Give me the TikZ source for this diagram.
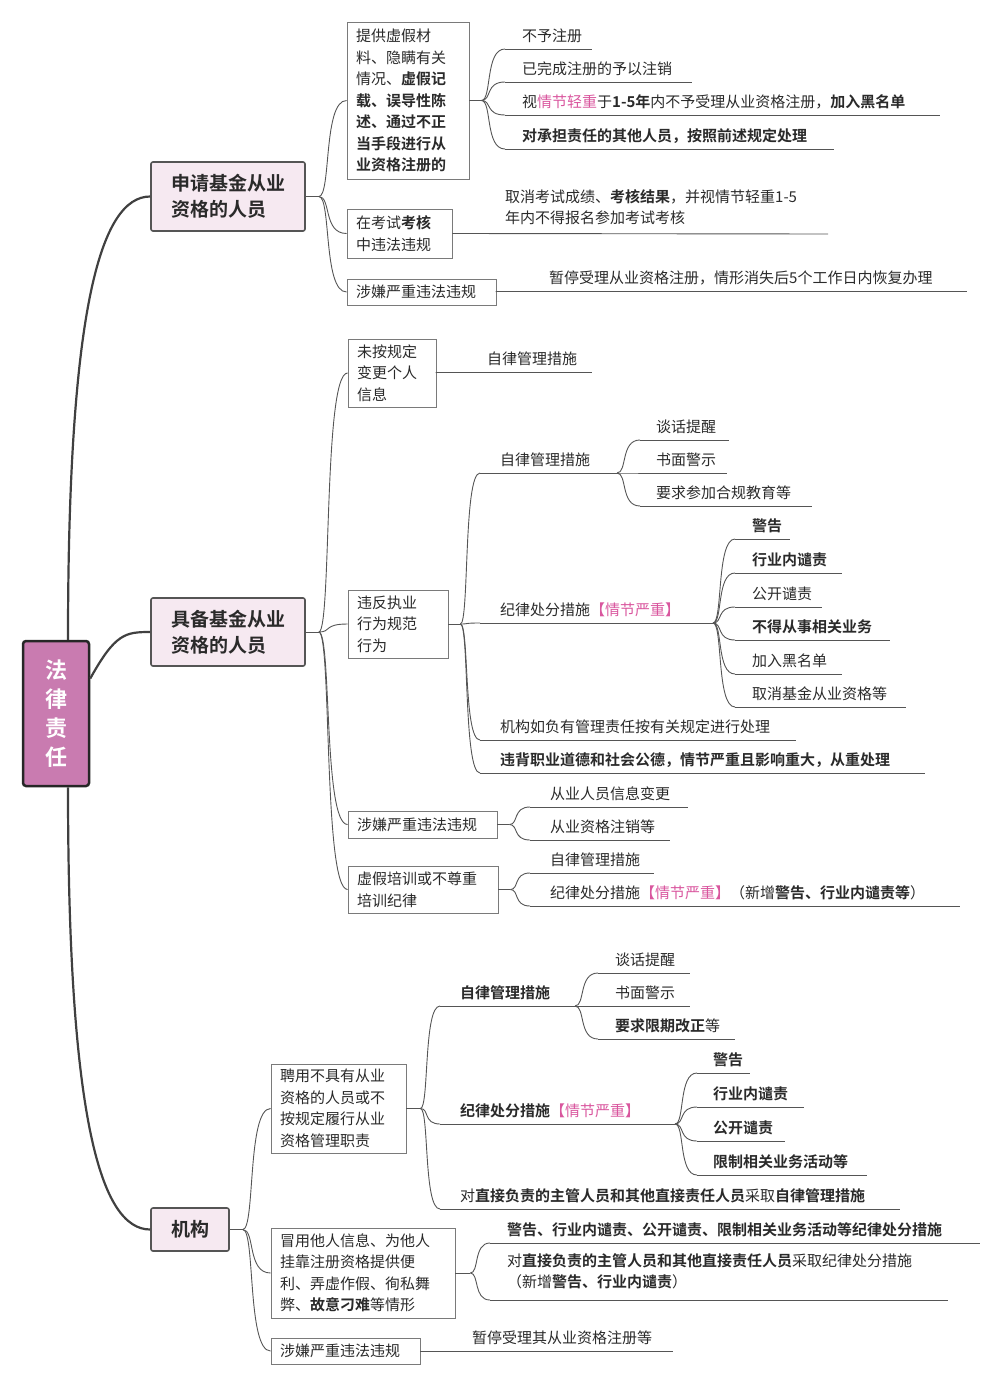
\documentclass[tikz,border=0pt]{standalone}
\usepackage{fontspec}
\setmainfont{Noto Sans CJK SC}[BoldFont={Noto Sans CJK SC Bold}]
\usetikzlibrary{calc}
\definecolor{pkc}{HTML}{D9569E}
\definecolor{lc}{HTML}{555555}
\definecolor{tc}{HTML}{2A2A2A}
\definecolor{bc}{HTML}{7A7A7A}
\definecolor{l1c}{HTML}{555555}
\definecolor{l1f}{HTML}{F6E9F1}
\definecolor{rootf}{HTML}{C97BB0}
\newcommand\B[1]{\textbf{#1}}
\newcommand\pk[1]{\textcolor{pkc}{#1}}
\newcommand\bx[6]{\pgfmathsetmacro\bw{#4-#2-18}\pgfmathsetmacro\bh{#5-#3}\node[bxs,text width=\bw pt,minimum height=\bh pt] (#1) at ({(#2+#4)/2},{(#3+#5)/2}) {#6};}
\newcommand\cc[2]{\draw[cl] let \p1=(#1),\p2=(#2) in (#1) .. controls ({\x1+0.45*(\x2-\x1)},\y1) and ({\x1+0.15*(\x2-\x1)},\y2) .. (#2);}
\newcommand\leaf[6]{\node[leaf,anchor=west] (#1) at (#3,#4) {#6}; \coordinate (#1s) at (#2,#4+13); \coordinate (#1e) at (#5,#4+13); \draw[cl] (#1s) -- (#1e);}
\newcommand\fan[3]{\coordinate (#1) at ($(#2)+(#3,0)$); \draw[cl] (#2) -- (#1);}
\begin{document}
\begin{tikzpicture}[x=1pt,y=-1pt,font=\fontsize{15}{21.5}\selectfont,
 cl/.style={draw=lc,line width=0.9pt},
 l0/.style={draw=black!75,line width=2.2pt},
 leaf/.style={inner sep=0pt,text=tc},
 bxs/.style={draw=bc,fill=white,line width=0.8pt,align=left,inner xsep=9pt,inner ysep=2pt,text=tc},
 l1/.style={draw=l1c,fill=l1f,line width=1.6pt,rounded corners=2pt,font=\fontsize{19}{26}\selectfont\bfseries,text=tc,align=left,inner xsep=10pt}]
\useasboundingbox (0,0) rectangle (1001,1386);
\node[draw=black!85,fill=rootf,line width=2.5pt,rounded corners=3pt,minimum width=66,minimum height=145,text=white,font=\fontsize{22}{29}\selectfont\bfseries,align=center] (root) at (56,713.5) {法\\律\\责\\任};
\node[l1,minimum width=154,minimum height=69] (A) at (228,196.5) {申请基金从业\\资格的人员};
\node[l1,minimum width=154,minimum height=68] (B) at (228,632) {具备基金从业\\资格的人员};
\node[l1,minimum width=78,minimum height=43] (C) at (190,1229.5) {机构};
\draw[l0] ($(root.north)+(12,0)$) .. controls +(0,-330) and +(-50,0) .. (A.west);
\draw[l0] ($(root.east)+(0,-35)$) .. controls +(25,-45) and +(-25,0) .. (B.west);
\draw[l0] ($(root.south)+(12,0)$) .. controls +(0,330) and +(-50,0) .. (C.west);
% A branch
\fan{fA}{A.east}{13}
\bx{a1}{347}{22}{469}{179}{提供虚假材\\料、隐瞒有关\\情况、\B{虚假记}\\\B{载、误导性陈}\\\B{述、通过不正}\\\B{当手段进行从}\\\B{业资格注册的}}
\bx{a2}{347}{209}{452}{258}{在考试\B{考核}\\中违法违规}
\bx{a3}{347}{279}{496}{305}{涉嫌严重违法违规}
\cc{fA}{a1.west}\cc{fA}{a2.west}\cc{fA}{a3.west}
\fan{fa1}{a1.east}{12}
\leaf{a11}{505}{522}{36}{592}{不予注册}
\leaf{a12}{505}{522}{69}{692}{已完成注册的予以注销}
\leaf{a13}{505}{522}{102}{940}{视\pk{情节轻重}于\B{1-5年}内不予受理从业资格注册，\B{加入黑名单}}
\leaf{a14}{505}{522}{136}{834}{\B{对承担责任的其他人员，按照前述规定处理}}
\cc{fa1}{a11s}\cc{fa1}{a12s}\cc{fa1}{a13s}\cc{fa1}{a14s}
\node[leaf,anchor=north west,align=left] (a21) at (505,189) {取消考试成绩、\B{考核结果}，并视情节轻重1-5\\年内不得报名参加考试考核};
\coordinate (a21s) at (452,234); \coordinate (a21e) at (828,234);
\draw[cl] (a2.east) -- (a21e);
\leaf{a31}{496}{549}{278}{967}{暂停受理从业资格注册，情形消失后5个工作日内恢复办理}
\draw[cl] (a3.east) -- (a31s);
% B branch
\fan{fB}{B.east}{13}
\bx{b1}{348}{339}{436}{407}{未按规定\\变更个人\\信息}
\bx{b2}{348}{590}{448}{658}{违反执业\\行为规范\\行为}
\bx{b3}{348}{811}{497}{838}{涉嫌严重违法违规}
\bx{b4}{348}{866}{498}{913}{虚假培训或不尊重\\培训纪律}
\cc{fB}{b1.west}\cc{fB}{b2.west}\cc{fB}{b3.west}\cc{fB}{b4.west}
\leaf{b11}{436}{487}{359}{592}{自律管理措施}
\draw[cl] (b1.east) -- (b11s);
\fan{fb2}{b2.east}{12}
\leaf{b21}{480}{500}{460}{617}{自律管理措施}
\leaf{b211}{640}{656}{427}{729}{谈话提醒}
\leaf{b212}{640}{656}{460}{727}{书面警示}
\leaf{b213}{640}{656}{493}{812}{要求参加合规教育等}
\cc{b21e}{b211s}\cc{b21e}{b212s}\cc{b21e}{b213s}
\leaf{b22}{480}{500}{610}{713}{纪律处分措施\pk{【情节严重】}}
\leaf{b221}{735}{752}{526}{790}{\B{警告}}
\leaf{b222}{735}{752}{560}{842}{\B{行业内谴责}}
\leaf{b223}{735}{752}{594}{822}{公开谴责}
\leaf{b224}{735}{752}{627}{890}{\B{不得从事相关业务}}
\leaf{b225}{735}{752}{661}{842}{加入黑名单}
\leaf{b226}{735}{752}{694}{906}{取消基金从业资格等}
\cc{b22e}{b221s}\cc{b22e}{b222s}\cc{b22e}{b223s}\cc{b22e}{b224s}\cc{b22e}{b225s}\cc{b22e}{b226s}
\leaf{b23}{480}{500}{727}{796}{机构如负有管理责任按有关规定进行处理}
\leaf{b24}{480}{500}{760}{925}{\B{违背职业道德和社会公德，情节严重且影响重大，从重处理}}
\cc{fb2}{b21s}\cc{fb2}{b22s}\cc{fb2}{b23s}\cc{fb2}{b24s}
\fan{fb3}{b3.east}{12}
\leaf{b31}{530}{550}{794}{688}{从业人员信息变更}
\leaf{b32}{530}{550}{827}{670}{从业资格注销等}
\cc{fb3}{b31s}\cc{fb3}{b32s}
\fan{fb4}{b4.east}{12}
\leaf{b41}{530}{550}{860}{654}{自律管理措施}
\leaf{b42}{530}{550}{893}{960}{纪律处分措施\pk{【情节严重】}（新增\B{警告、行业内谴责等}）}
\cc{fb4}{b41s}\cc{fb4}{b42s}
% C branch
\fan{fC}{C.east}{13}
\bx{c1}{271}{1064}{406}{1153}{聘用不具有从业\\资格的人员或不\\按规定履行从业\\资格管理职责}
\bx{c2}{271}{1228}{455}{1318}{冒用他人信息、为他人\\挂靠注册资格提供便\\利、弄虚作假、徇私舞\\弊、\B{故意刁难}等情形}
\bx{c3}{271}{1338}{420}{1364}{涉嫌严重违法违规}
\cc{fC}{c1.west}\cc{fC}{c2.west}\cc{fC}{c3.west}
\fan{fc1}{c1.east}{14}
\leaf{c11}{440}{460}{993}{575}{\B{自律管理措施}}
\leaf{c111}{598}{615}{960}{690}{谈话提醒}
\leaf{c112}{598}{615}{993}{690}{书面警示}
\leaf{c113}{598}{615}{1026}{735}{\B{要求限期改正}等}
\cc{c11e}{c111s}\cc{c11e}{c112s}\cc{c11e}{c113s}
\leaf{c12}{440}{460}{1111}{675}{\B{纪律处分措施}\pk{【情节严重】}}
\leaf{c121}{697}{713}{1060}{750}{\B{警告}}
\leaf{c122}{697}{713}{1094}{804}{\B{行业内谴责}}
\leaf{c123}{697}{713}{1128}{785}{\B{公开谴责}}
\leaf{c124}{697}{713}{1162}{867}{\B{限制相关业务活动等}}
\cc{c12e}{c121s}\cc{c12e}{c122s}\cc{c12e}{c123s}\cc{c12e}{c124s}
\leaf{c13}{440}{460}{1196}{900}{对\B{直接负责的主管人员和其他直接责任人员}采取\B{自律管理措施}}
\cc{fc1}{c11s}\cc{fc1}{c12s}\cc{fc1}{c13s}
\fan{fc2}{c2.east}{15}
\leaf{c21}{490}{507}{1230}{980}{\B{警告、行业内谴责、公开谴责、限制相关业务活动等纪律处分措施}}
\node[leaf,anchor=north west,align=left] (c22) at (507,1253) {对\B{直接负责的主管人员和其他直接责任人员}采取纪律处分措施\\（新增\B{警告、行业内谴责}）};
\coordinate (c22s) at (490,1300); \coordinate (c22e) at (948,1300);
\draw[cl] (c22s) -- (c22e);
\cc{fc2}{c21s}\cc{fc2}{c22s}
\leaf{c31}{420}{472}{1338}{673}{暂停受理其从业资格注册等}
\draw[cl] (c3.east) -- (c31s);
\end{tikzpicture}
\end{document}
